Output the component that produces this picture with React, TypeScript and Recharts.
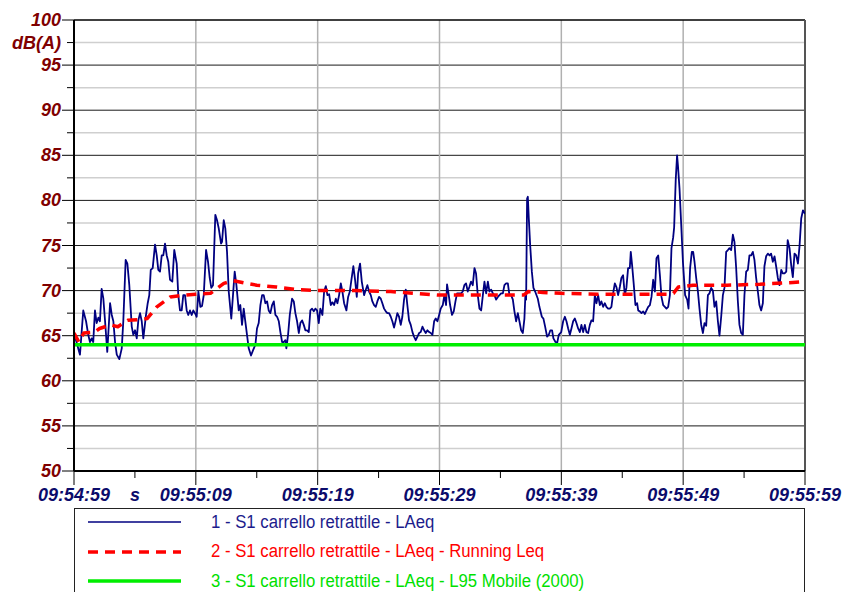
import { ComposedChart, Line, XAxis, YAxis, ReferenceLine } from "recharts";

// seconds from 09:54:59, dB(A)
const LAEQ: [number, number][] = [
  [0, 65.3], [0.49, 62.9], [0.76, 67.8], [0.99, 66.6], [1.17, 65.1], [1.31, 64.3], [1.45, 64.7], [1.58, 64.3],
  [1.72, 67.8], [1.86, 66.4], [2.0, 67.0], [2.13, 66.6], [2.27, 70.2], [2.41, 69.1], [2.55, 66.6], [2.73, 63.2],
  [2.96, 68.6], [3.1, 67.3], [3.23, 66.6], [3.37, 64.3], [3.51, 62.9], [3.72, 62.4], [3.92, 63.6], [4.05, 66.7],
  [4.24, 73.4], [4.38, 73.0], [4.54, 70.6], [4.74, 66.0], [4.87, 65.1], [5.01, 65.6], [5.15, 64.7], [5.28, 66.7],
  [5.42, 67.5], [5.56, 66.6], [5.69, 64.7], [5.91, 67.3], [6.05, 68.6], [6.18, 69.5], [6.3, 72.3], [6.46, 72.5],
  [6.65, 75.1], [6.79, 73.9], [6.92, 72.3], [7.06, 72.1], [7.2, 73.9], [7.33, 73.9], [7.47, 75.2], [7.61, 73.9],
  [7.74, 73.2], [7.88, 71.2], [8.07, 71.0], [8.23, 74.5], [8.43, 73.0], [8.56, 69.5], [8.7, 67.8], [8.84, 67.8],
  [8.97, 69.5], [9.11, 69.5], [9.25, 67.8], [9.38, 67.3], [9.52, 67.8], [9.66, 67.3], [9.79, 67.8], [9.93, 67.5],
  [10.07, 67.1], [10.21, 69.9], [10.37, 68.2], [10.51, 68.3], [10.65, 69.5], [10.84, 74.5], [11.0, 73.2], [11.14, 71.4],
  [11.27, 70.3], [11.41, 70.6], [11.6, 78.4], [11.74, 77.8], [11.88, 76.9], [12.07, 75.2], [12.15, 75.4], [12.29, 77.8],
  [12.42, 76.9], [12.56, 74.3], [12.7, 69.9], [12.91, 66.9], [13.05, 69.5], [13.19, 72.1], [13.33, 70.6], [13.52, 67.8],
  [13.65, 68.4], [13.79, 66.2], [13.93, 68.0], [14.06, 66.6], [14.2, 65.1], [14.34, 63.6], [14.53, 62.8], [14.7, 63.4],
  [14.89, 64.0], [15.02, 65.8], [15.16, 66.4], [15.3, 68.4], [15.44, 69.5], [15.57, 69.5], [15.71, 68.6], [15.85, 68.8],
  [15.98, 67.8], [16.12, 67.5], [16.26, 68.4], [16.4, 68.8], [16.53, 67.3], [16.67, 67.1], [16.81, 66.6], [16.94, 65.4],
  [17.08, 64.3], [17.22, 64.3], [17.35, 64.5], [17.43, 63.6], [17.57, 65.1], [17.71, 67.3], [17.9, 69.1], [18.04, 68.8],
  [18.17, 67.5], [18.31, 66.6], [18.45, 65.3], [18.58, 66.4], [18.72, 66.7], [18.86, 66.2], [18.99, 65.6], [19.13, 65.6],
  [19.27, 65.4], [19.4, 67.8], [19.54, 68.0], [19.68, 67.7], [19.81, 68.0], [19.95, 67.8], [20.09, 66.4], [20.22, 68.0],
  [20.39, 67.3], [20.53, 69.9], [20.67, 70.5], [20.8, 69.5], [20.94, 69.6], [21.08, 68.4], [21.21, 68.7], [21.35, 68.4],
  [21.49, 69.1], [21.62, 68.6], [21.76, 69.5], [21.9, 70.8], [22.03, 69.9], [22.17, 68.6], [22.36, 67.8], [22.5, 69.3],
  [22.64, 69.9], [22.77, 71.2], [22.93, 72.7], [23.07, 71.2], [23.21, 69.3], [23.32, 71.9], [23.48, 73.0], [23.62, 71.0],
  [23.81, 69.5], [23.95, 70.1], [24.08, 70.6], [24.22, 69.9], [24.36, 69.5], [24.49, 68.8], [24.63, 68.4], [24.77, 68.2],
  [24.9, 68.8], [25.04, 69.3], [25.18, 69.1], [25.31, 68.6], [25.45, 68.0], [25.59, 67.7], [25.72, 67.5], [25.86, 67.5],
  [26.0, 67.1], [26.13, 66.6], [26.27, 65.9], [26.41, 66.7], [26.54, 67.5], [26.68, 67.1], [26.82, 66.2], [26.95, 67.1],
  [27.09, 69.0], [27.23, 70.1], [27.36, 68.4], [27.5, 66.7], [27.64, 66.2], [27.78, 65.4], [27.91, 64.9], [28.05, 64.5],
  [28.19, 64.9], [28.33, 65.3], [28.46, 65.4], [28.6, 66.0], [28.74, 65.6], [28.87, 65.3], [29.01, 65.6], [29.15, 65.4],
  [29.28, 65.3], [29.42, 65.1], [29.56, 66.6], [29.69, 66.9], [29.83, 66.6], [29.97, 67.3], [30.1, 68.0], [30.27, 68.4],
  [30.4, 69.5], [30.54, 68.4], [30.62, 70.7], [30.76, 69.5], [30.87, 68.4], [31.03, 67.3], [31.17, 67.7], [31.31, 68.8],
  [31.44, 69.7], [31.63, 69.7], [31.77, 69.7], [31.91, 69.9], [32.04, 70.6], [32.18, 70.8], [32.32, 69.9], [32.45, 70.4],
  [32.59, 71.0], [32.73, 70.6], [32.87, 72.5], [33.0, 71.9], [33.14, 69.5], [33.28, 68.0], [33.42, 67.8], [33.56, 69.5],
  [33.69, 71.0], [33.83, 69.7], [33.97, 71.0], [34.1, 69.9], [34.24, 70.1], [34.38, 69.7], [34.51, 69.5], [34.65, 69.0],
  [34.79, 69.3], [34.92, 69.5], [35.06, 69.7], [35.2, 69.7], [35.33, 70.6], [35.47, 70.8], [35.61, 70.8], [35.74, 69.5],
  [35.88, 69.5], [36.02, 69.0], [36.15, 67.7], [36.29, 66.6], [36.43, 67.5], [36.56, 66.6], [36.7, 65.6], [36.84, 65.3],
  [36.97, 66.9], [37.05, 69.5], [37.11, 69.0], [37.19, 80.2], [37.25, 80.4], [37.33, 78.0], [37.44, 75.1], [37.58, 72.1],
  [37.71, 70.3], [37.85, 69.9], [38.07, 69.1], [38.2, 68.2], [38.4, 67.1], [38.53, 66.9], [38.67, 66.0], [38.83, 64.9],
  [38.97, 65.1], [39.1, 65.6], [39.24, 65.6], [39.35, 64.7], [39.52, 64.3], [39.66, 64.2], [39.79, 65.1], [39.99, 65.4],
  [40.15, 66.6], [40.29, 67.1], [40.42, 66.6], [40.56, 65.8], [40.7, 65.1], [40.83, 65.8], [40.97, 66.6], [41.11, 66.9],
  [41.24, 66.4], [41.38, 65.8], [41.52, 65.4], [41.65, 66.2], [41.79, 65.4], [41.93, 66.2], [42.06, 65.4], [42.2, 65.3],
  [42.34, 66.2], [42.47, 66.7], [42.61, 66.6], [42.75, 69.5], [42.88, 68.6], [43.02, 69.5], [43.16, 68.4], [43.29, 68.8],
  [43.43, 68.2], [43.57, 68.6], [43.7, 68.2], [43.84, 68.0], [43.98, 68.0], [44.11, 68.2], [44.25, 69.7], [44.39, 70.8],
  [44.52, 70.4], [44.66, 69.5], [44.8, 70.4], [44.93, 71.4], [45.07, 71.7], [45.21, 69.5], [45.34, 70.3], [45.48, 72.5],
  [45.62, 72.5], [45.7, 74.3], [45.81, 72.8], [45.95, 70.6], [46.08, 68.4], [46.22, 68.6], [46.31, 67.8], [46.44, 67.7],
  [46.58, 67.5], [46.72, 67.7], [46.85, 67.4], [46.99, 67.8], [47.13, 68.2], [47.27, 68.4], [47.4, 69.3], [47.54, 71.2],
  [47.68, 69.9], [47.81, 73.6], [47.95, 73.9], [48.09, 71.7], [48.22, 69.3], [48.36, 68.4], [48.5, 68.2], [48.63, 68.0],
  [48.77, 68.2], [48.91, 69.5], [49.04, 74.7], [49.18, 75.9], [49.26, 77.0], [49.39, 82.3], [49.5, 85.0], [49.57, 83.9],
  [49.7, 81.3], [49.84, 77.3], [49.98, 73.2], [50.16, 69.5], [50.33, 69.0], [50.44, 68.0], [50.57, 72.5], [50.71, 74.3],
  [50.82, 74.3], [50.93, 73.2], [51.07, 71.4], [51.21, 69.9], [51.34, 68.0], [51.48, 66.2], [51.62, 65.3], [51.75, 66.4],
  [51.89, 66.1], [52.03, 69.5], [52.16, 69.7], [52.3, 70.3], [52.44, 70.0], [52.57, 68.2], [52.71, 68.8], [52.85, 66.6],
  [52.98, 65.0], [53.12, 67.1], [53.26, 69.5], [53.39, 70.3], [53.53, 74.3], [53.67, 74.5], [53.8, 74.7], [53.94, 74.5],
  [54.08, 76.2], [54.21, 75.4], [54.35, 72.5], [54.49, 68.8], [54.62, 66.2], [54.76, 65.3], [54.9, 65.1], [55.03, 69.5],
  [55.17, 72.1], [55.31, 72.3], [55.44, 73.9], [55.58, 73.9], [55.72, 74.3], [55.85, 73.4], [55.99, 71.4], [56.13, 69.9],
  [56.26, 68.4], [56.4, 67.8], [56.54, 68.6], [56.67, 72.7], [56.81, 73.8], [56.95, 74.1], [57.09, 73.9], [57.22, 74.1],
  [57.36, 73.2], [57.5, 73.8], [57.63, 72.7], [57.77, 71.4], [57.91, 70.6], [58.05, 72.3], [58.18, 71.9], [58.32, 71.9],
  [58.46, 72.1], [58.58, 75.6], [58.73, 74.7], [58.87, 72.8], [59.0, 71.5], [59.14, 74.1], [59.28, 73.9], [59.42, 73.0],
  [59.55, 74.9], [59.69, 78.0], [59.83, 78.9], [59.96, 78.6], [60, 78.5],
];

const RUNNING_LEQ: [number, number][] = [
  [0, 65.3], [0.4, 64.3], [0.8, 65.3], [1.7, 65.4], [2.1, 65.8], [3.0, 66.2], [3.6, 66.0], [4.4, 66.7],
  [5.4, 66.8], [6.0, 66.9], [6.8, 68.2], [7.9, 69.3], [9.0, 69.5], [10.0, 69.6], [11.2, 69.7], [12.3, 70.8],
  [13.1, 71.1], [14.2, 70.8], [15.0, 70.6], [16.6, 70.4], [18.3, 70.1], [20.0, 70.0], [23.0, 70.0], [26.0, 69.9],
  [28.0, 69.7], [30.0, 69.5], [34.0, 69.5], [36.9, 69.5], [37.3, 69.9], [38.5, 69.8], [40.0, 69.7], [43.0, 69.6],
  [49.0, 69.6], [49.2, 69.7], [49.6, 70.4], [50.8, 70.6], [53.6, 70.6], [56.3, 70.7], [59.0, 70.9], [60, 71.0],
];

const L95_MOBILE: [number, number][] = [[0, 64], [60, 64]];

const X_TICKS = [0, 5, 10, 15, 20, 25, 30, 35, 40, 45, 50, 55, 60];
const TIME_LABELS = ["09:54:59", "09:55:09", "09:55:19", "09:55:29", "09:55:39", "09:55:49", "09:55:59"];
const Y_TICKS = [50, 52.5, 55, 57.5, 60, 62.5, 65, 67.5, 70, 72.5, 75, 77.5, 80, 82.5, 85, 87.5, 90, 92.5, 95, 97.5, 100];
const V_GRID = [10, 20, 30, 40, 50];

const SERIES = [
  { name: "1 - S1 carrello retrattile - LAeq", data: LAEQ, color: "#000080", text: "#1c1c8c", width: 1.8, dash: undefined },
  { name: "2 - S1 carrello retrattile - LAeq - Running Leq", data: RUNNING_LEQ, color: "#ff0000", text: "#ff0000", width: 3.5, dash: "10 7" },
  { name: "3 - S1 carrello retrattile - LAeq - L95 Mobile (2000)", data: L95_MOBILE, color: "#00ee00", text: "#00e000", width: 3.5, dash: undefined },
];

const AXIS_FONT = "'Liberation Sans', Arial, sans-serif";
const LEGEND_FONT = "'Liberation Sans', Arial, sans-serif";

function TimeTick({ x, y, payload }: any) {
  const v = payload.value as number;
  const major = v % 10 === 0;
  const label = major ? TIME_LABELS[v / 10] : v === 5 ? "s" : "";
  return (
    <g>
      <line x1={x} x2={x} y1={y} y2={y + (major ? 14 : 7)} stroke="#000" strokeWidth={1} />
      {label && (
        <text x={x} y={y + 30} textAnchor="middle" fill="#0b0b6b" fontFamily={AXIS_FONT} fontSize={18} fontWeight="bold" fontStyle="italic">
          {label}
        </text>
      )}
    </g>
  );
}

function LevelTick({ x, y, payload }: any) {
  const v = payload.value as number;
  const major = v % 5 === 0;
  const label = major ? String(v) : v === 97.5 ? "dB(A)" : "";
  return (
    <g>
      <line x1={x - (major ? 12 : 7)} x2={x} y1={y} y2={y} stroke="#000" strokeWidth={1} />
      {label && (
        <text x={x - 13} y={y + 6} textAnchor="end" fill="#800000" fontFamily={AXIS_FONT} fontSize={18} fontWeight="bold" fontStyle="italic">
          {label}
        </text>
      )}
    </g>
  );
}

export default function App() {
  const seriesData = SERIES.map((s) => s.data.map(([t, v]) => ({ t, v })));

  return (
    <div style={{ position: "fixed", left: 0, top: 0, width: 842, height: 592, background: "#fff", overflow: "hidden" }}>
      <ComposedChart width={842} height={592} margin={{ top: 20, right: 37, bottom: 81, left: 0 }}>
        <XAxis
          type="number"
          dataKey="t"
          domain={[0, 60]}
          ticks={X_TICKS}
          interval={0}
          height={40}
          tickSize={0}
          tickMargin={0}
          tickLine={false}
          axisLine={{ stroke: "#000", strokeWidth: 2 }}
          tick={<TimeTick />}
          allowDataOverflow
        />
        <YAxis
          type="number"
          domain={[50, 100]}
          ticks={Y_TICKS}
          interval={0}
          width={74}
          tickSize={0}
          tickMargin={0}
          tickLine={false}
          axisLine={{ stroke: "#000", strokeWidth: 2 }}
          tick={<LevelTick />}
          allowDataOverflow
        />
        {Y_TICKS.filter((v) => v > 50 && v < 100).map((v) => (
          <ReferenceLine key={"h" + v} y={v} stroke={v % 5 === 0 ? "#1a1a1a" : "#cfcfcf"} strokeWidth={v % 5 === 0 ? 1 : 1.5} />
        ))}
        {V_GRID.map((t) => (
          <ReferenceLine key={"v" + t} x={t} stroke="#b0b0b0" strokeWidth={1.5} />
        ))}
        <ReferenceLine y={100} stroke="#000" strokeWidth={1.5} />
        <ReferenceLine x={60} stroke="#555" strokeWidth={2} />
        {SERIES.map((s, i) => (
          <Line
            key={s.name}
            data={seriesData[i]}
            dataKey="v"
            type="linear"
            stroke={s.color}
            strokeWidth={s.width}
            strokeDasharray={s.dash}
            strokeLinejoin="round"
            dot={false}
            activeDot={false}
            isAnimationActive={false}
          />
        ))}
      </ComposedChart>
      <div
        style={{
          position: "absolute",
          left: 74,
          top: 508,
          width: 731,
          height: 100,
          border: "1.5px solid #222",
          boxSizing: "border-box",
          fontFamily: LEGEND_FONT,
          fontSize: 18,
        }}
      >
        {SERIES.map((s, i) => (
          <div key={s.name} style={{ position: "absolute", left: 0, top: 1 + i * 29.5, height: 24, display: "flex", alignItems: "center" }}>
            <svg width={120} height={24} style={{ display: "block" }}>
              <line x1={13} x2={106} y1={12} y2={12} stroke={s.color} strokeWidth={i === 0 ? 1.5 : 3.5} strokeDasharray={s.dash} />
            </svg>
            <span
              style={{
                marginLeft: 16,
                color: s.text,
                whiteSpace: "nowrap",
                display: "inline-block",
                transform: "scaleX(0.93)",
                transformOrigin: "left center",
              }}
            >
              {s.name}
            </span>
          </div>
        ))}
      </div>
    </div>
  );
}
